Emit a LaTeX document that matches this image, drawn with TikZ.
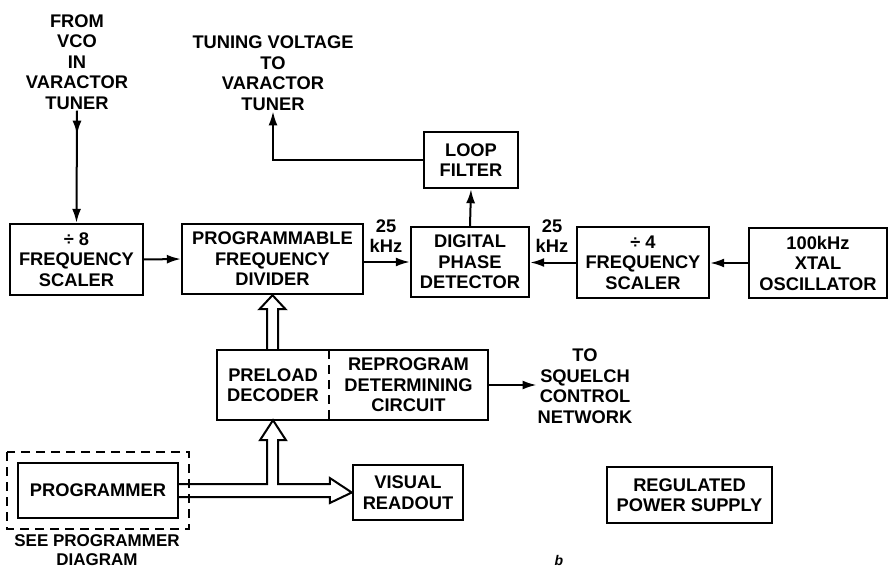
\documentclass[tikz,border=0pt]{standalone}
\usepackage{fontspec}
\setmainfont{Liberation Sans}
\usetikzlibrary{arrows.meta,calc}
\begin{document}
\begin{tikzpicture}[x=1pt,y=-1pt,
  txt/.style={font=\bfseries\fontsize{18.3}{20.5}\selectfont, align=center, inner sep=1pt},
  box/.style={txt, draw, line width=2.4pt, inner sep=0pt},
  conn/.style={line width=2pt, -{Latex[length=14pt,width=9pt]}},
  bus/.style={line width=2pt, line join=miter},
  dashline/.style={line width=2pt, dash pattern=on 9pt off 6pt}
]
\useasboundingbox (0,0) rectangle (888,569);
% boxes
\node[box, minimum width=133, minimum height=71] (scal8) at (76.5,259.5) {÷ 8\\FREQUENCY\\SCALER};
\node[box, minimum width=181, minimum height=70] (pfd) at (272.5,259) {PROGRAMMABLE\\FREQUENCY\\DIVIDER};
\node[box, minimum width=118, minimum height=70] (dpd) at (470,262) {DIGITAL\\PHASE\\DETECTOR};
\node[box, minimum width=94, minimum height=56] (loop) at (471,160) {LOOP\\FILTER};
\node[box, minimum width=132, minimum height=71] (scal4) at (643,262.5) {÷ 4\\FREQUENCY\\SCALER};
\node[box, minimum width=138, minimum height=70] (xtal) at (818,263) {100kHz\\XTAL\\OSCILLATOR};
\node[txt, minimum width=112, minimum height=70, inner sep=0pt] (pre) at (273,385) {PRELOAD\\DECODER};
\node[txt, minimum width=159, minimum height=70, inner sep=0pt] (rep) at (408.5,385) {REPROGRAM\\DETERMINING\\CIRCUIT};
\draw[line width=2.4pt] (pre.north west) rectangle (rep.south east);
\draw[dashline] (pre.north east) -- (pre.south east);
\node[box, minimum width=160, minimum height=55] (prog) at (98,490.5) {PROGRAMMER};
\coordinate (pdnw) at (7,452);
\coordinate (pdse) at (189,529);
\draw[dashline] (pdnw) rectangle (pdse);
\node[box, minimum width=110, minimum height=55] (visual) at (408,492.5) {VISUAL\\READOUT};
\node[box, minimum width=165, minimum height=56] (power) at (689.5,495) {REGULATED\\POWER SUPPLY};
% labels
\node[txt] (vco) at (77,62) {FROM\\VCO\\IN\\VARACTOR\\TUNER};
\node[txt] (tune) at (273,73) {TUNING VOLTAGE\\TO\\VARACTOR\\TUNER};
\node[txt] (squelch) at (585,386) {TO\\SQUELCH\\CONTROL\\NETWORK};
\node[txt, font=\bfseries\fontsize{17}{18.5}\selectfont, inner sep=0pt] (see) at (97,550) {SEE PROGRAMMER\\DIAGRAM};
\node[txt] (f1) at (386,236) {25\\kHz};
\node[txt] (f2) at (552,236) {25\\kHz};
\node[font=\bfseries\itshape\fontsize{14}{16}\selectfont, inner sep=0pt] (b) at (559,560) {b};
% connectors
\draw[conn] (vco.south) -- (scal8.north);
\draw[conn] (vco.south) -- ++(0,24);
\draw[conn] (loop.west) -| (tune.south);
\draw[conn] (dpd.north) -- (loop.south);
\draw[conn] (scal8.east) -- (pfd.west);
\draw[conn] (pfd.east |- dpd.west) -- (dpd.west);
\draw[conn] (scal4.west) -- (scal4.west -| dpd.east);
\draw[conn] (xtal.west) -- (xtal.west -| scal4.east);
\draw[conn] (rep.east) -- (rep.east -| squelch.west);
% hollow bus arrows
\draw[bus] ($(pre.north)+(-6,0)$) -- ($(pfd.south)+(-5.5,14)$) -- ($(pfd.south)+(-13,14)$)
  -- (pfd.south) -- ($(pfd.south)+(13,14)$) -- ($(pfd.south)+(5.5,14)$) -- ($(pre.north)+(5,0)$);
\draw[bus] ($(prog.east)+(0,-6.5)$) -- ($(pre.south)+(-6,64)$) -- ($(pre.south)+(-6,20)$)
  -- ($(pre.south)+(-13,20)$) -- (pre.south) -- ($(pre.south)+(13,20)$) -- ($(pre.south)+(5,20)$)
  -- ($(pre.south)+(5,64)$) -- ($(visual.west)+(-22,-8.5)$) -- ($(visual.west)+(-22,-14.5)$)
  -- (visual.west) -- ($(visual.west)+(-22,10.5)$) -- ($(visual.west)+(-22,4.5)$)
  -- ($(prog.east)+(0,6.5)$);
\end{tikzpicture}
\end{document}
